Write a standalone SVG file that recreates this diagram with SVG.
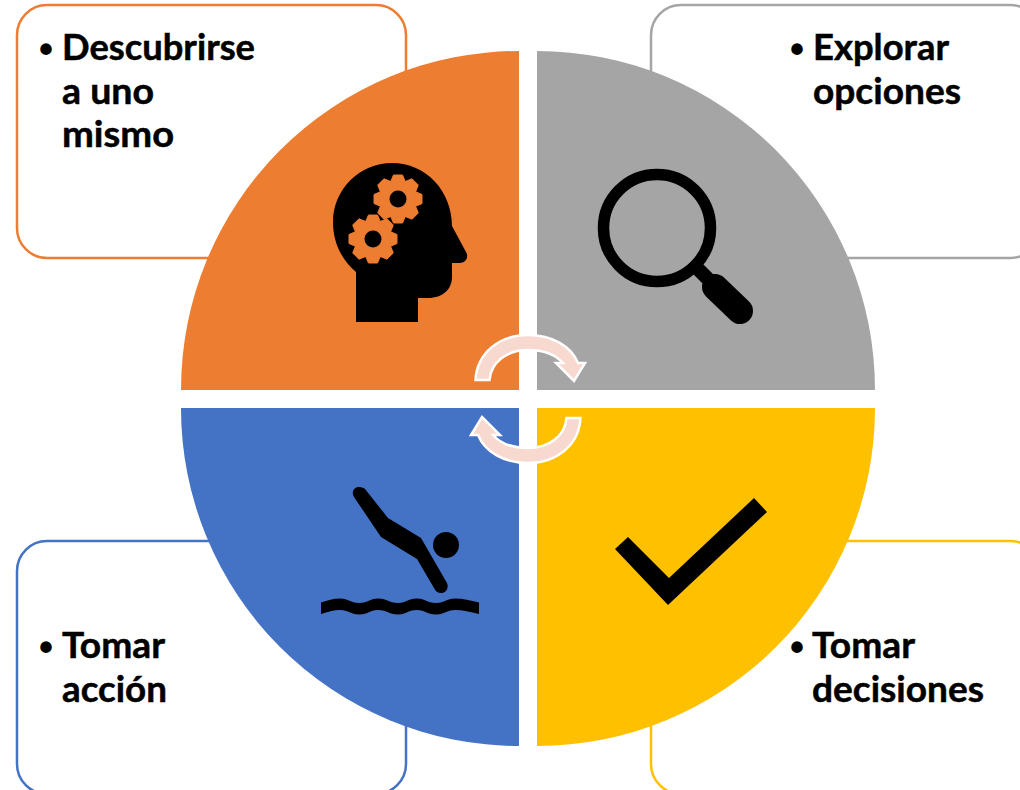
<svg xmlns="http://www.w3.org/2000/svg" width="1020" height="790" viewBox="0 0 1020 790">
<style>
.card{fill:#fff;stroke-width:2.5}
.t{font-family:"Lato","Liberation Sans",sans-serif;font-weight:700;font-size:36.3px;fill:#000;stroke:#000;stroke-width:.5}
.b{font-family:"Liberation Sans",sans-serif;font-weight:700;font-size:40px;fill:#000}
.arrow{fill:#F8D9CF;stroke:#fff;stroke-width:2.5;stroke-linejoin:miter}
</style>
<defs>
<path id="tooth" d="M-4.5,-24 H4.5 L7.5,-17 H-7.5 Z" fill="#ED7D31" stroke="#ED7D31" stroke-width="1" stroke-linejoin="round"/>
<g id="gear">
<circle r="18.5" fill="#ED7D31"/>
<use href="#tooth"/>
<use href="#tooth" transform="rotate(45)"/>
<use href="#tooth" transform="rotate(90)"/>
<use href="#tooth" transform="rotate(135)"/>
<use href="#tooth" transform="rotate(180)"/>
<use href="#tooth" transform="rotate(225)"/>
<use href="#tooth" transform="rotate(270)"/>
<use href="#tooth" transform="rotate(315)"/>
<circle r="8.5" fill="#000"/>
</g>
<path id="turn" class="arrow" d="M475.5,380 C477,353 499,335 528,335 C552,335 571,346 578,363 L585,363 L574,381 L556,363 L563,363 C556,355 545,350 528,350 C507,350 491,362 489.5,380 Z"/>
</defs>
<rect width="1020" height="790" fill="#fff"/>
<g id="node-descubrirse">
<rect class="card" x="17" y="5" width="389" height="253" rx="30" stroke="#ED7D31"/>
<path d="M519,390 H181 A338,339 0 0 1 519,51 Z" fill="#ED7D31"/>
<path d="M356,322 H418 V298 H428 C443,298 452,289 452,277 V263 H460 C466,263 469,257 466,252 L452,226 C452,191 426,163 392,163 C359,163 333,190 333,222 C333,243 342,260 356,272 Z" fill="#000"/>
<use href="#gear" x="398" y="199"/>
<use href="#gear" x="373" y="239"/>
<text class="b" x="39" y="63">•</text>
<text class="t" x="62" y="60" textLength="193" lengthAdjust="spacingAndGlyphs">Descubrirse</text>
<text class="t" x="62" y="104" textLength="92" lengthAdjust="spacingAndGlyphs">a uno</text>
<text class="t" x="62" y="147" textLength="112" lengthAdjust="spacingAndGlyphs">mismo</text>
</g>
<g id="node-explorar">
<rect class="card" x="651" y="5" width="389" height="253" rx="30" stroke="#A5A5A5"/>
<path d="M537,390 H875 A338,339 0 0 0 537,51 Z" fill="#A5A5A5"/>
<circle cx="657" cy="228" r="53.5" fill="none" stroke="#000" stroke-width="11.5"/>
<path d="M697,268 L716,287" stroke="#000" stroke-width="14" fill="none"/>
<path d="M715,287 L740,311" stroke="#000" stroke-width="26" stroke-linecap="round" fill="none"/>
<text class="b" x="790" y="63">•</text>
<text class="t" x="813" y="60" textLength="136" lengthAdjust="spacingAndGlyphs">Explorar</text>
<text class="t" x="813" y="104" textLength="148" lengthAdjust="spacingAndGlyphs">opciones</text>
</g>
<g id="node-decisiones">
<rect class="card" x="651" y="541" width="389" height="253" rx="30" stroke="#FFC000"/>
<path d="M537,408 H875 A338,338 0 0 1 537,746 Z" fill="#FFC000"/>
<path d="M628,537 L615,549 L668,605 L767,512 L754,498 L669,578 Z" fill="#000"/>
<text class="b" x="790" y="661">•</text>
<text class="t" x="812" y="658" textLength="103" lengthAdjust="spacingAndGlyphs">Tomar</text>
<text class="t" x="812" y="702" textLength="172" lengthAdjust="spacingAndGlyphs">decisiones</text>
</g>
<g id="node-accion">
<rect class="card" x="17" y="541" width="389" height="253" rx="30" stroke="#4472C4"/>
<path d="M519,408 H181 A338,338 0 0 0 519,746 Z" fill="#4472C4"/>
<path d="M354,497 C351,492 354,487 359,487 C362,487 364,488 365,489 L388,518 L421,538 L447,583 C449,588 446,593 441,593 C438,593 435,591 434,588 L417,559 L381,537 Z" fill="#000"/>
<circle cx="446" cy="545" r="13" fill="#000"/>
<path d="M321,602.5 C328,600.5 333,598.5 340,598.5 C349,598.5 350,603 359,603 C369,603 369,598.5 378,598.5 C388,598.5 388,603 398,603 C407,603 407,598.5 417,598.5 C426,598.5 426,603 436,603 C445,603 446,598.5 455,598.5 C463,598.5 470,600.5 479,602.5 V614 C470,612 463,610 455,610 C446,610 445,614.5 436,614.5 C426,614.5 426,610 417,610 C407,610 407,614.5 398,614.5 C388,614.5 388,610 378,610 C369,610 369,614.5 359,614.5 C350,614.5 349,610 340,610 C333,610 328,612 321,614 Z" fill="#000"/>
<text class="b" x="39" y="661">•</text>
<text class="t" x="62" y="658" textLength="103" lengthAdjust="spacingAndGlyphs">Tomar</text>
<text class="t" x="62" y="702" textLength="105" lengthAdjust="spacingAndGlyphs">acción</text>
</g>
<g id="connectors">
<use href="#turn"/>
<use href="#turn" transform="rotate(180 528 399)"/>
</g>
</svg>
